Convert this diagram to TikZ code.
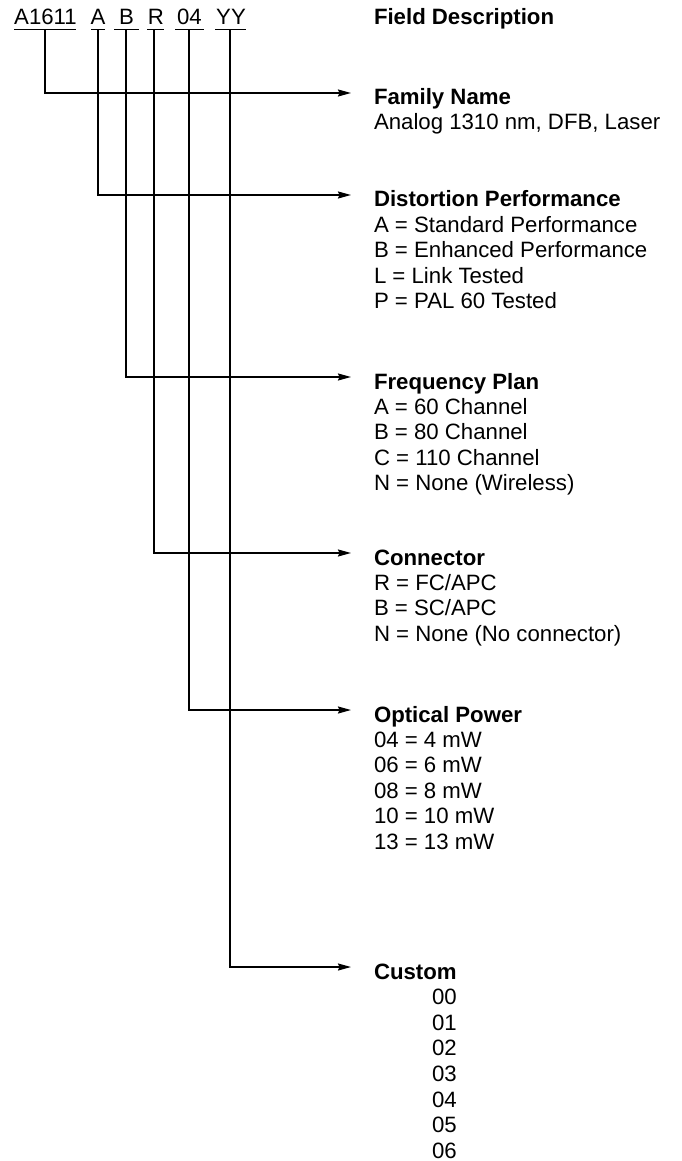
\documentclass[tikz,border=0pt]{standalone}
\usepackage{fontspec}
\setmainfont{Liberation Sans}
\usetikzlibrary{arrows.meta}
\begin{document}
\begin{tikzpicture}[x=1pt,y=-1pt,
  every node/.style={inner sep=0pt,outer sep=0pt,font=\fontsize{22.2}{25.4}\selectfont},
  code/.style={anchor=base},
  ttl/.style={anchor=base west,font=\fontsize{22.2}{25.4}\selectfont\bfseries},
  itm/.style={anchor=base west},
  conn/.style={line width=1.5pt,-{Stealth[length=13pt,width=7pt,inset=1.5pt]}},
  uline/.style={line width=1.5pt}]
\useasboundingbox (0,0) rectangle (681,1161);
% part number
\node[code] (cA1611) at (45.5,25) {A1611};
\node[code] (cA) at (98,25) {A};
\node[code] (cB) at (126.5,25) {B};
\node[code] (cR) at (156,25) {R};
\node[code] (c04) at (189.5,25) {04};
\node[code] (cYY) at (231,25) {YY};
\draw[uline] (14,29.5) -- (76,29.5);
\draw[uline] (91,29.5) -- (105,29.5);
\draw[uline] (114,29.5) -- (139,29.5);
\draw[uline] (147,29.5) -- (164,29.5);
\draw[uline] (175,29.5) -- (204,29.5);
\draw[uline] (215,29.5) -- (246,29.5);
\coordinate (sA1611) at (45,29.5);
\coordinate (sA) at (98,29.5);
\coordinate (sB) at (126,29.5);
\coordinate (sR) at (154,29.5);
\coordinate (s04) at (189,29.5);
\coordinate (sYY) at (230,29.5);
\node[ttl] (hdr) at (374,25) {Field Description};
% arrow ends
\coordinate (eFam) at (351,93);
\coordinate (eDis) at (351,195);
\coordinate (eFrq) at (351,377);
\coordinate (eCon) at (351,553);
\coordinate (eOpt) at (351,710);
\coordinate (eCus) at (351,967);
\draw[conn] (sA1611) |- (eFam);
\draw[conn] (sA) |- (eDis);
\draw[conn] (sB) |- (eFrq);
\draw[conn] (sR) |- (eCon);
\draw[conn] (s04) |- (eOpt);
\draw[conn] (sYY) |- (eCus);
% family
\node[ttl] (tFam) at (374,105) {Family Name};
\node[itm] (iFam1) at (374,129.5) {Analog 1310 nm, DFB, Laser};
% distortion
\node[ttl] (tDis) at (374,207) {Distortion Performance};
\foreach \t [count=\i] in {A = Standard Performance,B = Enhanced Performance,L = Link Tested,P = PAL 60 Tested}
  \node[itm] (iDis\i) at (374,207+25.4*\i) {\t};
% frequency
\node[ttl] (tFrq) at (374,389) {Frequency Plan};
\foreach \t [count=\i] in {A = 60 Channel,B = 80 Channel,C = 110 Channel,N = None (Wireless)}
  \node[itm] (iFrq\i) at (374,389+25.4*\i) {\t};
% connector
\node[ttl] (tCon) at (374,565) {Connector};
\foreach \t [count=\i] in {R = FC/APC,B = SC/APC,N = None (No connector)}
  \node[itm] (iCon\i) at (374,565+25.4*\i) {\t};
% optical power
\node[ttl] (tOpt) at (374,722) {Optical Power};
\foreach \t [count=\i] in {04 = 4 mW,06 = 6 mW,08 = 8 mW,10 = 10 mW,13 = 13 mW}
  \node[itm] (iOpt\i) at (374,722+25.4*\i) {\t};
% custom
\node[ttl] (tCus) at (374,979) {Custom};
\foreach \t [count=\i] in {00,01,02,03,04,05,06}
  \node[itm] (iCus\i) at (432,979+25.6*\i) {\t};
\end{tikzpicture}
\end{document}
